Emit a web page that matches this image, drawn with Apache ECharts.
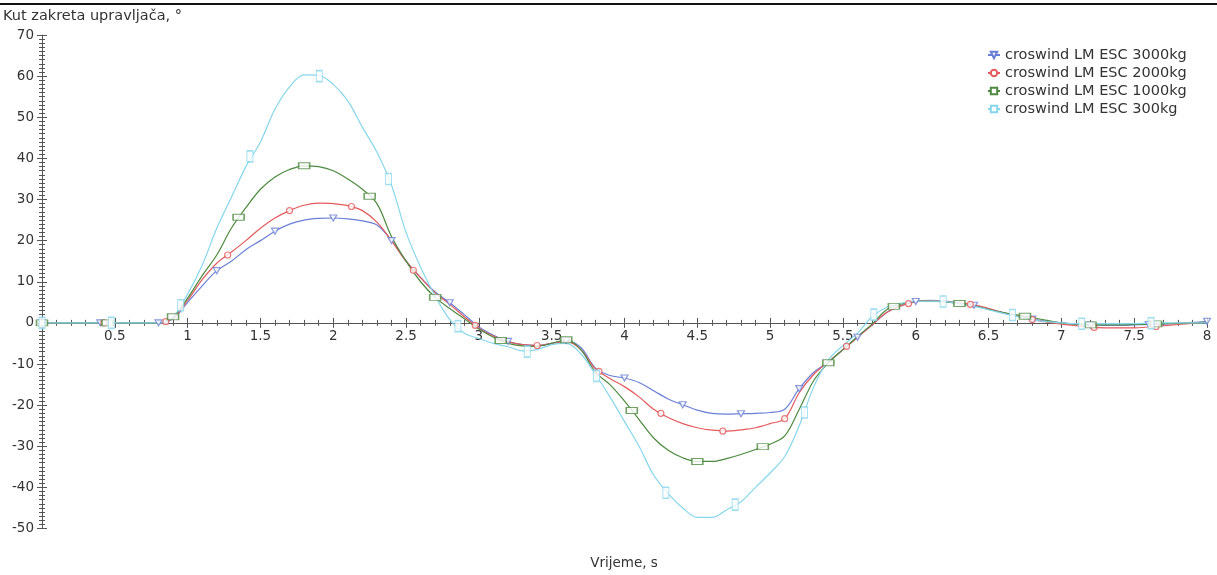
<!DOCTYPE html>
<html>
<head>
<meta charset="utf-8">
<script src="https://cdn.jsdelivr.net/npm/echarts@6/dist/echarts.min.js"></script>
<style>html,body{margin:0;padding:0;background:#fff}#c{width:1217px;height:575px}</style>
</head>
<body>
<div id="c"></div>
<script>
// ---- DATA ----
const seriesNames = ['croswind LM ESC 3000kg','croswind LM ESC 2000kg','croswind LM ESC 1000kg','croswind LM ESC 300kg'];
const time = [0,0.1,0.2,0.3,0.4,0.5,0.6,0.7,0.8,0.9,1.0,1.1,1.2,1.3,1.4,1.5,1.6,1.7,1.8,1.9,2.0,2.1,2.2,2.3,2.4,2.5,2.6,2.7,2.8,2.9,3.0,3.1,3.2,3.3,3.4,3.5,3.6,3.7,3.8,3.9,4.0,4.1,4.2,4.3,4.4,4.5,4.6,4.7,4.8,4.9,5.0,5.1,5.2,5.3,5.4,5.5,5.6,5.7,5.8,5.9,6.0,6.1,6.2,6.3,6.4,6.5,6.6,6.7,6.8,6.9,7.0,7.1,7.2,7.3,7.4,7.5,7.6,7.7,7.8,7.9,8.0];
const angle3000 = [0,0,0,0,0,0,0,0,0,1.0,5.0,9.0,12.7,15.0,17.8,20.0,22.3,24.0,25.0,25.4,25.5,25.3,24.8,23.8,20.0,15.0,11.0,7.5,4.9,2.0,-1.0,-3.0,-4.5,-5.3,-5.5,-5.0,-4.3,-6.0,-11.0,-12.8,-13.4,-14.5,-16.5,-18.5,-19.9,-21.2,-22.0,-22.2,-22.1,-22.0,-21.8,-21.0,-16.0,-12.0,-9.5,-6.5,-3.5,-0.5,2.5,4.2,5.2,5.5,5.3,4.8,4.3,3.4,2.5,1.6,0.9,0.4,0,-0.3,-0.5,-0.6,-0.6,-0.5,-0.4,-0.3,-0.1,0.1,0.4];
const angle2000 = [0,0,0,0,0,0,0,0,0,1.2,5.5,10.5,14.5,17.2,20.0,23.0,25.5,27.3,28.6,29.1,29.0,28.5,27.3,24.5,20.0,15.0,11.0,7.3,4.5,1.5,-1.3,-3.2,-4.6,-5.3,-5.5,-5.0,-4.5,-6.5,-11.2,-13.5,-15.5,-18.0,-21.0,-23.0,-24.5,-25.5,-26.1,-26.3,-26.0,-25.5,-24.5,-23.3,-17.0,-12.5,-9.5,-6.5,-3.5,-0.5,2.5,4.2,5.1,5.4,5.2,4.8,4.4,3.5,2.5,1.6,0.8,0.2,-0.3,-0.7,-1.1,-1.2,-1.2,-1.2,-1.0,-0.7,-0.4,-0.1,0.2];
const angle1000 = [0,0,0,0,0,0,0,0,0,1.5,6.0,11.5,16.5,23.0,28.0,32.5,35.5,37.3,38.2,38.0,37.0,35.0,32.5,29.0,21.0,15.0,10.0,6.2,3.5,1.0,-1.5,-3.5,-5.0,-5.6,-5.7,-5.0,-4.1,-6.5,-12.0,-15.0,-19.0,-23.5,-28.0,-31.0,-32.8,-33.7,-33.7,-33.0,-32.0,-30.8,-29.5,-27.5,-21.0,-14.0,-9.7,-6.5,-3.3,-0.3,3.2,4.6,5.2,5.3,5.1,4.7,4.1,3.3,2.5,1.9,1.3,0.6,0,-0.3,-0.5,-0.5,-0.5,-0.4,-0.3,-0.2,-0.1,0,0.1];
const angle300 = [0,0,0,0,0,0,0,0,0,1.5,7.0,14.0,23.0,30.5,38.0,44.0,52.0,57.4,60.3,60.2,58.0,54.0,47.6,41.5,33.5,22.0,13.5,6.5,0.8,-2.5,-3.8,-5.0,-5.8,-6.8,-6.5,-5.3,-5.0,-7.5,-12.5,-18.0,-24.0,-30.0,-37.0,-41.5,-45.0,-47.3,-47.3,-45.5,-43.5,-40.0,-36.5,-32.5,-25.0,-15.5,-9.0,-5.5,-2.5,1.5,3.8,4.8,5.2,5.3,5.2,4.6,4.0,3.2,2.3,1.5,0.8,0.3,0,-0.2,-0.2,-0.2,-0.2,-0.2,-0.1,0,0,0,0];
// marker positions (time, angle)
const mark3000T = [0,0.4,0.8,1.2,1.6,2.0,2.4,2.8,3.2,3.6,4.0,4.4,4.8,5.2,5.6,6.0,6.4,6.8,7.2,7.6,8.0];
const mark3000A = [0,0,0,12.7,22.3,25.5,20.0,4.9,-4.5,-4.3,-13.4,-19.9,-22.1,-16.0,-3.5,5.2,4.3,0.9,-0.5,-0.4,0.4];
const mark2000T = [0,0.425,0.85,1.275,1.7,2.125,2.55,2.975,3.4,3.825,4.25,4.675,5.1,5.525,5.95,6.375,6.8,7.225,7.65];
const mark2000A = [0,0,0.3,16.5,27.3,28.3,12.8,-0.6,-5.5,-11.8,-22.0,-26.3,-23.3,-5.7,4.7,4.5,0.8,-1.1,-0.9];
const mark1000T = [0,0.45,0.9,1.35,1.8,2.25,2.7,3.15,3.6,4.05,4.5,4.95,5.4,5.85,6.3,6.75,7.2,7.65];
const mark1000A = [0,0,1.5,25.7,38.2,30.8,6.2,-4.3,-4.1,-21.3,-33.7,-30.1,-9.7,4.0,4.7,1.6,-0.5,-0.25];
const mark300T = [0,0.476,0.952,1.428,1.904,2.38,2.856,3.332,3.808,4.284,4.76,5.236,5.712,6.188,6.664,7.14,7.616];
const mark300A = [0,0,4.3,40.5,60.0,35.0,-0.8,-7.0,-12.9,-41.3,-44.2,-21.8,2.0,5.2,1.9,-0.2,-0.1];
const xMin = 0, xMax = 8, xStep = 0.5;
const yMin = -50, yMax = 70, yStep = 10;
const yTitle = 'Kut zakreta upravljača, °';
const xTitle = 'Vrijeme, s';

// ---- CHART ----
const colors = ['#6a7fd6', '#e45a5c', '#4d8a3f', '#86d6ec'];
const symbols = ['triangle', 'circle', 'rect', 'rect'];
const symSizes = [[7,6], 6, [11,6], [6,11]];
const symRot = [180, 0, 0, 0];
const lines = [angle3000, angle2000, angle1000, angle300];
const marksT = [mark3000T, mark2000T, mark1000T, mark300T];
const marksA = [mark3000A, mark2000A, mark1000A, mark300A];
const pair = (xs, ys) => xs.map((x, i) => [x, ys[i]]);

const W = 1217, H = 575;
const G = { left: 42, right: 10, top: 35, bottom: 46.5 };
const gH = H - G.top - G.bottom;
// shift of the x axis from the grid bottom up to the y = 0 line
const zeroFromBottom = gH * (0 - yMin) / (yMax - yMin);
const zeroFromTop = gH - zeroFromBottom;

const font = 'DejaVu Sans';
const axisColor = '#555';
const series = [];
seriesNames.forEach((name, i) => {
  series.push({
    name: name, type: 'line', data: pair(time, lines[i]), xAxisIndex: 0, yAxisIndex: 0,
    smooth: 0.35, showSymbol: false, symbol: symbols[i], symbolSize: symSizes[i], symbolRotate: symRot[i],
    lineStyle: { color: colors[i], width: 1.2 }, itemStyle: { color: '#fff', borderColor: colors[i], borderWidth: 1.2 },
    z: 3 + i, silent: true
  });
  series.push({
    name: name + ' m', type: 'scatter', data: pair(marksT[i], marksA[i]), xAxisIndex: 0, yAxisIndex: 0,
    symbol: symbols[i], symbolSize: symSizes[i], symbolRotate: symRot[i],
    itemStyle: { color: '#fff', borderColor: colors[i], borderWidth: 1.2 },
    z: 10 + i, silent: true
  });
});

const tickCommon = { show: true, length: 5, inside: false, lineStyle: { color: axisColor } };
const minorCommon = { show: true, length: 3, lineStyle: { color: axisColor } };

const option = {
  animation: false,
  backgroundColor: '#fff',
  grid: G,
  xAxis: [
    { type: 'value', min: xMin, max: xMax, interval: xStep, position: 'bottom', offset: -zeroFromBottom,
      axisLine: { show: true, onZero: false, lineStyle: { color: axisColor } },
      axisTick: tickCommon, minorTick: Object.assign({ splitNumber: 5 }, minorCommon),
      splitLine: { show: false }, minorSplitLine: { show: false },
      axisLabel: { margin: 7, fontFamily: font, fontSize: 13.5, color: '#333',
        formatter: v => (v === 0 ? '' : String(v)) } },
    { type: 'value', min: xMin, max: xMax, interval: xStep, position: 'top', offset: -zeroFromTop,
      axisLine: { show: false, onZero: false },
      axisTick: tickCommon, minorTick: Object.assign({ splitNumber: 5 }, minorCommon),
      splitLine: { show: false }, axisLabel: { show: false } }
  ],
  yAxis: [
    { type: 'value', min: yMin, max: yMax, interval: yStep, position: 'left',
      axisLine: { show: true, onZero: false, lineStyle: { color: axisColor } },
      axisTick: tickCommon, minorTick: Object.assign({ splitNumber: 10 }, minorCommon),
      splitLine: { show: false },
      axisLabel: { margin: 8, fontFamily: font, fontSize: 13.5, color: '#333' } },
    { type: 'value', min: yMin, max: yMax, interval: yStep, position: 'right', offset: -(W - G.left - G.right),
      axisLine: { show: false, onZero: false },
      axisTick: tickCommon, minorTick: Object.assign({ splitNumber: 10 }, minorCommon),
      splitLine: { show: false }, axisLabel: { show: false } }
  ],
  legend: {
    data: seriesNames, orient: 'vertical', left: 982, top: 42,
    itemWidth: 12, itemHeight: 8, itemGap: 2,
    textStyle: { fontFamily: font, fontSize: 14.5, color: '#333', lineHeight: 16 }
  },
  graphic: [
    { type: 'rect', shape: { x: 0, y: 3, width: W, height: 2 }, style: { fill: '#111' } },
    { type: 'text', x: 3, y: 16, style: { text: yTitle, font: '14.5px "DejaVu Sans"', fill: '#333', verticalAlign: 'middle' } },
    { type: 'text', x: 624, y: 563, style: { text: xTitle, font: '13.5px "DejaVu Sans"', fill: '#333', align: 'center', verticalAlign: 'middle' } }
  ],
  series: series
};
const chart = echarts.init(document.getElementById('c'), null, { renderer: 'canvas' });
chart.setOption(option);
</script>
</body>
</html>
